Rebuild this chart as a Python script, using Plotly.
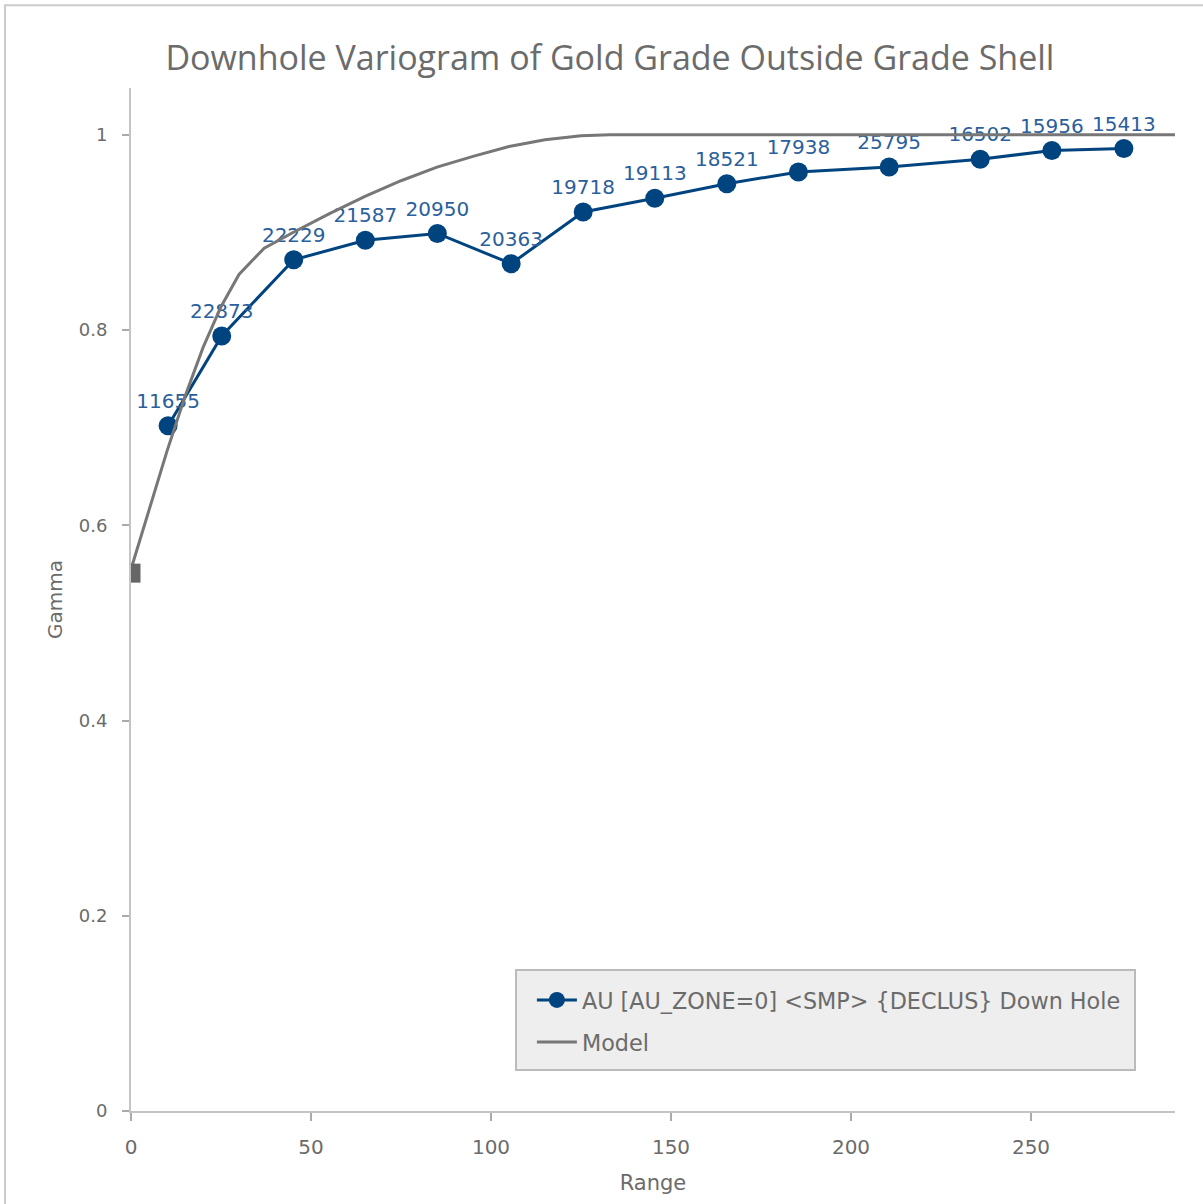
import plotly.graph_objects as go

# Experimental variogram (lag distance, gamma, number of pairs)
lag_range = [10.3, 25.2, 45.2, 65.1, 85.1, 105.6, 125.6, 145.5, 165.5, 185.4, 210.6, 235.9, 255.8, 275.8]
gamma = [0.702, 0.794, 0.872, 0.892, 0.899, 0.868, 0.921, 0.935, 0.950, 0.962, 0.967, 0.975, 0.984, 0.986]
pairs = ["11655", "22873", "22229", "21587", "20950", "20363", "19718", "19113",
         "18521", "17938", "25795", "16502", "15956", "15413"]

# Fitted model curve
model_range = [0, 5, 10, 15, 20, 25, 30, 37, 45, 55, 65, 75, 85, 95, 105, 115, 125, 133, 290]
model_gamma = [0.555, 0.616, 0.676, 0.732, 0.782, 0.824, 0.857, 0.884, 0.900, 0.919,
               0.937, 0.953, 0.967, 0.978, 0.988, 0.995, 0.999, 1.0, 1.0]
nugget = 0.551

grey_text = "#6b6b6b"
blue = "#00447f"
label_blue = "#2a609b"
sans = "DejaVu Sans"

fig = go.Figure()

fig.add_trace(go.Scatter(
    x=lag_range, y=gamma, mode="lines+markers+text",
    name="AU [AU_ZONE=0] &lt;SMP&gt; {DECLUS} Down Hole",
    text=pairs, textposition="top center",
    textfont=dict(family=sans, size=20, color=label_blue),
    line=dict(color=blue, width=3),
    marker=dict(color=blue, size=19),
    legendgroup="a",
))

fig.add_trace(go.Scatter(
    x=model_range, y=model_gamma, mode="lines", name="Model",
    line=dict(color="#777777", width=3),
    legendgroup="b",
))

# Nugget marker at the origin
fig.add_trace(go.Scatter(
    x=[0], y=[nugget], mode="markers", showlegend=False,
    marker=dict(symbol="square", color="#666666", size=19),
    cliponaxis=True,
))

fig.update_layout(
    width=1203, height=1204,
    margin=dict(l=131, r=28, t=88, b=93),
    paper_bgcolor="white", plot_bgcolor="white",
    font=dict(family=sans, color=grey_text),
    title=dict(text="Downhole Variogram of Gold Grade Outside Grade Shell",
               x=0.507, xanchor="center", y=0.952, yanchor="middle",
               font=dict(family="Open Sans", size=34, color=grey_text)),
    xaxis=dict(range=[0, 290], tickvals=[0, 50, 100, 150, 200, 250],
               showgrid=False, zeroline=False, showline=True,
               linecolor="#c4c4c4", linewidth=2,
               ticks="outside", ticklen=8, tickcolor="#aaaaaa", tickwidth=2,
               ticklabelstandoff=9,
               tickfont=dict(family=sans, size=20, color=grey_text),
               title=dict(text="Range", font=dict(family=sans, size=21, color=grey_text),
                          standoff=17)),
    yaxis=dict(range=[0, 1.048], tickvals=[0, 0.2, 0.4, 0.6, 0.8, 1],
               ticktext=["0", "0.2", "0.4", "0.6", "0.8", "1"],
               showgrid=False, zeroline=False, showline=True,
               linecolor="#c4c4c4", linewidth=2,
               ticks="outside", ticklen=7, tickcolor="#aaaaaa", tickwidth=2,
               ticklabelstandoff=11,
               tickfont=dict(family=sans, size=18, color=grey_text),
               title=dict(text="Gamma", font=dict(family=sans, size=20, color=grey_text),
                          standoff=11)),
    legend=dict(x=0.384, xanchor="left", y=0.047, yanchor="bottom",
                bgcolor="rgba(0,0,0,0)", borderwidth=0,
                font=dict(family=sans, size=22.3, color=grey_text),
                traceorder="grouped", tracegroupgap=10, itemwidth=40),
    shapes=[
        # outer frame
        dict(type="rect", xref="paper", yref="paper",
             x0=-0.1207, x1=1.2, y0=-0.2, y1=1.081,
             line=dict(color="#cccccc", width=2), layer="below"),
        # legend panel
        dict(type="rect", xref="paper", yref="paper",
             x0=0.3688, x1=0.9617, y0=0.0401, y1=0.1378,
             fillcolor="#eeeeee", line=dict(color="#bbbbbb", width=2), layer="above"),
    ],
)

fig.write_html("out.html")
